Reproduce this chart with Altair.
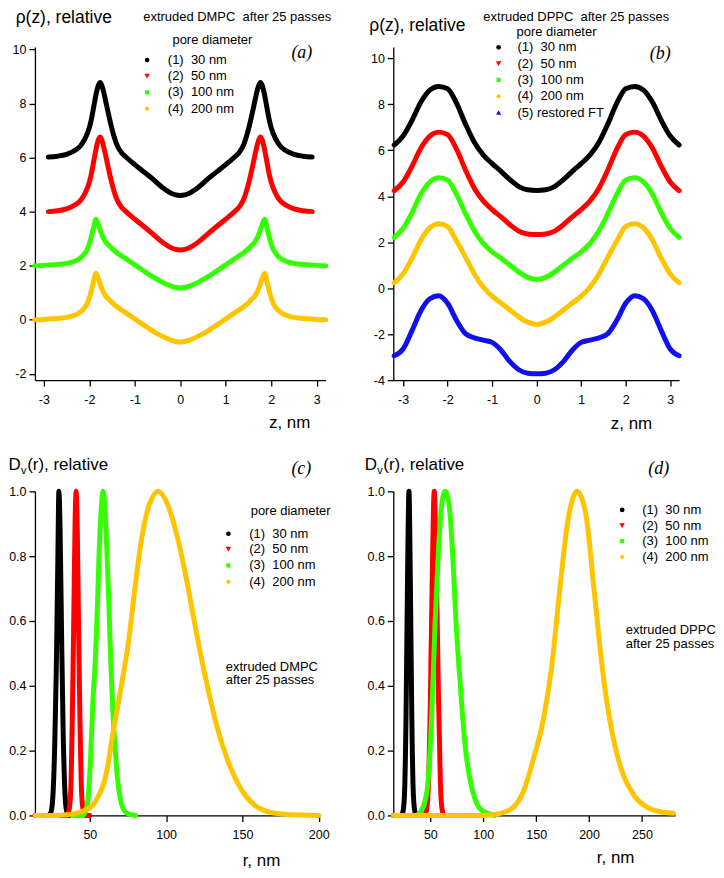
import altair as alt
import pandas as pd

FONT = "Liberation Sans"
SERIF = "Liberation Serif"
BLACK, RED, GREEN, YELLOW, BLUE = "#000000", "#ff0000", "#33ff00", "#ffc400", "#1010ee"
LW = 5

# ---------------- panel (a): extruded DMPC, rho(z) ----------------
z_a12 = [-2.9, -2.7, -2.5, -2.3, -2.2, -2.1, -2.0, -1.95, -1.9, -1.85, -1.8, -1.76, -1.72, -1.68, -1.64,
         -1.6, -1.55, -1.5, -1.45, -1.4, -1.3, -1.2, -1.1, -1.0, -0.8, -0.6, -0.4, -0.2, -0.1, 0.0,
         0.1, 0.2, 0.4, 0.6, 0.8, 1.0, 1.1, 1.2, 1.3, 1.4, 1.45, 1.5, 1.55, 1.6, 1.64, 1.68, 1.72,
         1.76, 1.8, 1.85, 1.9, 1.95, 2.0, 2.1, 2.2, 2.3, 2.5, 2.7, 2.9]
rho_a_30 = [6.02, 6.05, 6.12, 6.28, 6.42, 6.68, 7.1, 7.45, 7.9, 8.35, 8.68, 8.78, 8.65, 8.4, 8.1,
            7.78, 7.4, 7.05, 6.75, 6.5, 6.2, 6.03, 5.88, 5.74, 5.47, 5.2, 4.9, 4.68, 4.62, 4.6,
            4.62, 4.68, 4.9, 5.2, 5.47, 5.74, 5.88, 6.03, 6.2, 6.5, 6.75, 7.05, 7.4, 7.78, 8.1, 8.4, 8.65,
            8.78, 8.68, 8.35, 7.9, 7.45, 7.1, 6.68, 6.42, 6.28, 6.12, 6.05, 6.02]
rho_a_50 = [4.0, 4.03, 4.1, 4.26, 4.4, 4.66, 5.08, 5.43, 5.88, 6.33, 6.66, 6.76, 6.63, 6.38, 6.08,
            5.76, 5.38, 5.03, 4.73, 4.48, 4.18, 4.01, 3.86, 3.72, 3.45, 3.17, 2.88, 2.66, 2.6, 2.58,
            2.6, 2.66, 2.88, 3.17, 3.45, 3.72, 3.86, 4.01, 4.18, 4.48, 4.73, 5.03, 5.38, 5.76, 6.08, 6.38, 6.63,
            6.76, 6.66, 6.33, 5.88, 5.43, 5.08, 4.66, 4.4, 4.26, 4.1, 4.03, 4.0]
z_a34 = [-3.2, -3.0, -2.8, -2.6, -2.4, -2.3, -2.2, -2.1, -2.05, -2.0, -1.95, -1.9, -1.86, -1.82, -1.78,
         -1.74, -1.7, -1.65, -1.6, -1.55, -1.5, -1.4, -1.3, -1.2, -1.0, -0.8, -0.6, -0.4, -0.2, -0.1, 0.0,
         0.1, 0.2, 0.4, 0.6, 0.8, 1.0, 1.2, 1.3, 1.4, 1.5, 1.55, 1.6, 1.65, 1.7, 1.74, 1.78, 1.82, 1.86,
         1.9, 1.95, 2.0, 2.05, 2.1, 2.2, 2.3, 2.4, 2.6, 2.8, 3.0, 3.2]
rho_a_100 = [2.0, 2.01, 2.03, 2.06, 2.12, 2.18, 2.28, 2.45, 2.58, 2.8, 3.1, 3.45, 3.72, 3.62, 3.42,
             3.22, 3.05, 2.9, 2.8, 2.72, 2.63, 2.49, 2.37, 2.26, 2.03, 1.8, 1.58, 1.39, 1.24, 1.19, 1.17,
             1.19, 1.24, 1.39, 1.58, 1.8, 2.03, 2.26, 2.37, 2.49, 2.63, 2.72, 2.8, 2.9, 3.05, 3.22, 3.42, 3.62, 3.72,
             3.45, 3.1, 2.8, 2.58, 2.45, 2.28, 2.18, 2.12, 2.06, 2.03, 2.01, 2.0]
rho_a_200 = [0.0, 0.01, 0.03, 0.06, 0.12, 0.18, 0.28, 0.45, 0.58, 0.8, 1.1, 1.45, 1.72, 1.62, 1.42,
             1.22, 1.05, 0.9, 0.8, 0.72, 0.63, 0.49, 0.37, 0.26, 0.03, -0.2, -0.42, -0.61, -0.76, -0.81, -0.83,
             -0.81, -0.76, -0.61, -0.42, -0.2, 0.03, 0.26, 0.37, 0.49, 0.63, 0.72, 0.8, 0.9, 1.05, 1.22, 1.42, 1.62, 1.72,
             1.45, 1.1, 0.8, 0.58, 0.45, 0.28, 0.18, 0.12, 0.06, 0.03, 0.01, 0.0]

# ---------------- panel (b): extruded DPPC, rho(z) ----------------
z_b = [-3.2, -3.0, -2.8, -2.6, -2.4, -2.2, -2.0, -1.8, -1.6, -1.4, -1.2, -1.0, -0.8, -0.6, -0.4, -0.2, 0.0,
       0.2, 0.4, 0.6, 0.8, 1.0, 1.2, 1.4, 1.6, 1.8, 2.0, 2.2, 2.4, 2.6, 2.8, 3.0, 3.2]
rho_b_30 = [6.23, 6.62, 7.3, 8.1, 8.62, 8.78, 8.68, 8.05, 7.15, 6.35, 5.8, 5.42, 5.08, 4.72, 4.42, 4.28, 4.25,
            4.28, 4.42, 4.72, 5.08, 5.42, 5.8, 6.35, 7.15, 8.05, 8.68, 8.78, 8.62, 8.1, 7.3, 6.62, 6.23]
rho_b_50 = [4.24, 4.62, 5.3, 6.1, 6.62, 6.79, 6.68, 6.05, 5.15, 4.35, 3.8, 3.42, 3.1, 2.76, 2.48, 2.36, 2.33,
            2.36, 2.48, 2.76, 3.1, 3.42, 3.8, 4.35, 5.15, 6.05, 6.68, 6.79, 6.62, 6.1, 5.3, 4.62, 4.24]
rho_b_100 = [2.21, 2.6, 3.28, 4.1, 4.62, 4.81, 4.7, 4.08, 3.25, 2.5, 1.95, 1.58, 1.3, 1.0, 0.7, 0.47, 0.38,
             0.47, 0.7, 1.0, 1.3, 1.58, 1.95, 2.5, 3.25, 4.08, 4.7, 4.81, 4.62, 4.1, 3.28, 2.6, 2.21]
rho_b_200 = [0.23, 0.62, 1.3, 2.1, 2.62, 2.8, 2.68, 2.05, 1.35, 0.62, 0.05, -0.35, -0.65, -0.95, -1.25, -1.48, -1.58,
             -1.48, -1.25, -0.95, -0.65, -0.35, 0.05, 0.62, 1.35, 2.05, 2.68, 2.8, 2.62, 2.1, 1.3, 0.62, 0.23]
rho_b_ft = [-2.94, -2.65, -1.85, -0.98, -0.46, -0.33, -0.66, -1.4, -1.98, -2.16, -2.26, -2.36, -2.7, -3.2, -3.55, -3.7, -3.73,
            -3.7, -3.55, -3.2, -2.7, -2.36, -2.26, -2.16, -1.98, -1.4, -0.66, -0.33, -0.46, -0.98, -1.85, -2.65, -2.94]

# ---------------- panel (c): DMPC size distributions ----------------
r_c30 = [14, 22, 24, 25, 26, 27, 28, 29, 29.7, 30.5, 31.5, 32.5, 33.5, 34.5, 36, 40]
dv_c30 = [0, 0, 0.005, 0.02, 0.08, 0.22, 0.45, 0.78, 1.0, 0.88, 0.55, 0.26, 0.09, 0.02, 0.0, 0.0]
r_c50 = [30, 35, 36.5, 37.5, 38.5, 39.5, 40.3, 41, 41.7, 42.5, 43.5, 44.5, 45.5, 47, 50]
dv_c50 = [0, 0, 0.02, 0.08, 0.3, 0.62, 0.9, 1.0, 0.9, 0.62, 0.3, 0.08, 0.02, 0, 0]
r_c100 = [38, 45, 47, 49, 50.5, 52, 53.8, 55, 56, 57.5, 58.5, 59.5, 61.3, 62.5, 63.5, 65, 66.7, 68, 70, 72, 75, 80]
dv_c100 = [0, 0, 0.01, 0.06, 0.18, 0.35, 0.5, 0.65, 0.8, 0.95, 1.0, 0.97, 0.8, 0.65, 0.5, 0.33, 0.2, 0.12, 0.05, 0.02, 0.005, 0]
r_c200 = [14, 25, 35, 42, 47, 51.7, 55, 59.2, 62, 65, 68, 71, 75.2, 79.5, 83.8, 89, 95, 100.9, 107.3, 113.7,
          120, 126.5, 133, 141.5, 150, 158.5, 165, 171, 180, 190, 200]
dv_c200 = [0, 0, 0.002, 0.008, 0.017, 0.03, 0.055, 0.1, 0.16, 0.25, 0.33, 0.41, 0.53, 0.7, 0.85, 0.96, 1.0, 0.96, 0.86, 0.72,
           0.56, 0.41, 0.28, 0.156, 0.075, 0.03, 0.014, 0.007, 0.003, 0.001, 0]

# ---------------- panel (d): DPPC size distributions ----------------
r_d30 = [15, 22, 24, 25.5, 27, 28.5, 29.8, 31, 32.5, 34, 35.5, 37, 45]
dv_d30 = [0, 0, 0.01, 0.06, 0.3, 0.75, 1.0, 0.75, 0.3, 0.06, 0.01, 0, 0]
r_d50 = [40, 44, 46, 48, 50, 52, 53.7, 55.5, 57.5, 59.5, 61, 63, 70]
dv_d50 = [0, 0, 0.01, 0.08, 0.35, 0.78, 1.0, 0.78, 0.4, 0.1, 0.02, 0, 0]
r_d100 = [30, 36, 40.5, 46.6, 51.2, 54.3, 57.4, 60.4, 64.1, 68, 71.2, 74.2, 77.9, 83.4, 89.6, 98.8, 111]
dv_d100 = [0, 0, 0.01, 0.07, 0.3, 0.58, 0.8, 0.95, 1.0, 0.95, 0.8, 0.6, 0.42, 0.2, 0.08, 0.015, 0]
r_d200 = [15, 60, 100, 111, 126.4, 138.7, 147.9, 157, 164.7, 172.4, 180, 188.7, 196.9, 204.6, 212.3, 221.5,
          230.7, 243, 255, 270.5, 279.8]
dv_d200 = [0, 0, 0, 0.003, 0.02, 0.08, 0.18, 0.3, 0.46, 0.7, 0.91, 1.0, 0.93, 0.7, 0.46, 0.26,
           0.14, 0.06, 0.025, 0.01, 0.007]

# ---------------- legend / text ----------------
NB = "\u00a0"
labels4 = ["(1)" + NB * 2 + "30 nm", "(2)" + NB * 2 + "50 nm", "(3)" + NB * 2 + "100 nm", "(4)" + NB * 2 + "200 nm"]
labels5 = labels4 + ["(5)" + NB + "restored FT"]
shapes5 = ["circle", "triangle-down", "square", "diamond", "triangle-up"]
colors5 = [BLACK, RED, GREEN, YELLOW, BLUE]
sizes5 = [22, 30, 18, 26, 26]

ONE = pd.DataFrame({"k": [0]})


def axis(values, expr, is_x):
    return alt.Axis(values=values, labelExpr=expr, title=None, grid=False, tickSize=6, tickWidth=1.3,
                    domainWidth=1.3, domainColor="black", tickColor="black", labelColor="black",
                    labelFont=FONT, labelFontSize=12.5, labelPadding=7 if is_x else 3,
                    labelFlush=False, labelOverlap=False)


def curve(x, y, color, xsc, ysc, xax, yax):
    df = pd.DataFrame({"x": x, "y": y})
    return alt.Chart(df).mark_line(color=color, strokeWidth=LW, interpolate="monotone",
                                   strokeCap="round", strokeJoin="round").encode(
        x=alt.X("x:Q", scale=xsc, axis=xax), y=alt.Y("y:Q", scale=ysc, axis=yax))


def T(s, x, y, size=13, font=FONT, style="normal", baseline="middle"):
    return alt.Chart(ONE).mark_text(text=s, align="left", baseline=baseline, fontSize=size, font=font,
                                    fontStyle=style, color="black").encode(x=alt.value(x), y=alt.value(y))


def S(shape, color, x, y, size):
    return alt.Chart(ONE).mark_point(shape=shape, filled=True, size=size, color=color, opacity=1,
                                     strokeWidth=0).encode(x=alt.value(x), y=alt.value(y))


def legend(n, sx, tx, ys):
    out = []
    for i in range(n):
        out.append(S(shapes5[i], colors5[i], sx, ys[i], sizes5[i]))
        out.append(T(labels5[i], tx, ys[i]))
    return out


INT = "'' + datum.value"
DEC = "format(datum.value, '.1f')"

# ---- panel a ----
xa = alt.Scale(domain=[-3.195, 3.195], nice=False, zero=False)
ya = alt.Scale(domain=[-2.236, 10.09], nice=False, zero=False)
xax_a = axis([-3, -2, -1, 0, 1, 2, 3], INT, True)
yax_a = axis([-2, 0, 2, 4, 6, 8, 10], INT, False)
layers_a = [
    curve(z_a12, rho_a_30, BLACK, xa, ya, xax_a, yax_a),
    curve(z_a12, rho_a_50, RED, xa, ya, xax_a, yax_a),
    curve(z_a34, rho_a_100, GREEN, xa, ya, xax_a, yax_a),
    curve(z_a34, rho_a_200, YELLOW, xa, ya, xax_a, yax_a),
    T("ρ(z), relative", -19.3, -23.7, size=17.5, baseline="alphabetic"),
    T("extruded DMPC" + NB * 2 + "after 25 passes", 108.6, -26.4, baseline="alphabetic"),
    T("pore diameter", 137.9, -7.3),
    T("(a)", 257.2, 6.1, size=18, font=SERIF, style="italic"),
    T("z, nm", 234.7, 377.4, size=17),
    alt.Chart(ONE).mark_point(filled=True, size=1, opacity=0).encode(x=alt.value(-26.4), y=alt.value(-36.8)),
] + legend(4, 112.5, 133.3, [13.0, 29.0, 45.4, 61.7])
panel_a = alt.layer(*layers_a).properties(width=291.5, height=333.9)

# ---- panel b ----
xb = alt.Scale(domain=[-3.22, 3.2], nice=False, zero=False)
yb = alt.Scale(domain=[-4.0, 10.49], nice=False, zero=False)
xax_b = axis([-3, -2, -1, 0, 1, 2, 3], INT, True)
yax_b = axis([-4, -2, 0, 2, 4, 6, 8, 10], INT, False)
layers_b = [
    curve(z_b, rho_b_30, BLACK, xb, yb, xax_b, yax_b),
    curve(z_b, rho_b_50, RED, xb, yb, xax_b, yax_b),
    curve(z_b, rho_b_100, GREEN, xb, yb, xax_b, yax_b),
    curve(z_b, rho_b_200, YELLOW, xb, yb, xax_b, yax_b),
    curve(z_b, rho_b_ft, BLUE, xb, yb, xax_b, yax_b),
    T("ρ(z), relative", -24.1, -16.5, size=17.5, baseline="alphabetic"),
    T("extruded DPPC" + NB * 2 + "after 25 passes", 90.3, -26.4, baseline="alphabetic"),
    T("pore diameter", 123.6, -15.5),
    T("(b)", 257.2, 6.9, size=18, font=SERIF, style="italic"),
    T("z, nm", 218.1, 377.9, size=17),
] + legend(5, 105.6, 124.5, [0.2, 16.5, 32.9, 49.3, 65.6])
panel_b = alt.layer(*layers_b).properties(width=286.6, height=333.9)

# ---- panel c ----
xc = alt.Scale(domain=[14, 200], nice=False, zero=False)
yc = alt.Scale(domain=[0, 1.0], nice=False, zero=False)
xax_c = axis([50, 100, 150, 200], INT, True)
yax_c = axis([0, 0.2, 0.4, 0.6, 0.8, 1.0], DEC, False)
layers_c = [
    curve(r_c30, dv_c30, BLACK, xc, yc, xax_c, yax_c),
    curve(r_c50, dv_c50, RED, xc, yc, xax_c, yax_c),
    curve(r_c100, dv_c100, GREEN, xc, yc, xax_c, yax_c),
    curve(r_c200, dv_c200, YELLOW, xc, yc, xax_c, yax_c),
    T("D", -26.4, -21.3, size=17, baseline="alphabetic"),
    T("v", -14.0, -17.4, size=11, baseline="alphabetic"),
    T("(r), relative", -7.8, -21.3, size=17, baseline="alphabetic"),
    T("(c)", 257.2, -22.3, size=18, font=SERIF, style="italic"),
    T("pore diameter", 216.4, 19.6),
    T("extruded DMPC", 191.4, 175.7),
    T("after 25 passes", 191.4, 189.5),
    T("r, nm", 208.3, 370.5, size=17),
] + legend(4, 194.0, 214.9, [42.5, 57.9, 74.3, 90.6])
panel_c = alt.layer(*layers_c).properties(width=284.6, height=325)

# ---- panel d ----
xd = alt.Scale(domain=[15, 281.3], nice=False, zero=False)
yd = alt.Scale(domain=[0, 1.0], nice=False, zero=False)
xax_d = axis([50, 100, 150, 200, 250], INT, True)
yax_d = axis([0, 0.2, 0.4, 0.6, 0.8, 1.0], DEC, False)
layers_d = [
    curve(r_d30, dv_d30, BLACK, xd, yd, xax_d, yax_d),
    curve(r_d50, dv_d50, RED, xd, yd, xax_d, yax_d),
    curve(r_d100, dv_d100, GREEN, xd, yd, xax_d, yax_d),
    curve(r_d200, dv_d200, YELLOW, xd, yd, xax_d, yax_d),
    T("D", -28.6, -21.3, size=17, baseline="alphabetic"),
    T("v", -16.2, -17.4, size=11, baseline="alphabetic"),
    T("(r), relative", -10.0, -21.3, size=17, baseline="alphabetic"),
    T("(d)", 255.6, -22.3, size=18, font=SERIF, style="italic"),
    T("extruded DPPC", 233.1, 139.1),
    T("after 25 passes", 233.1, 152.9),
    T("r, nm", 204.1, 367.2, size=17),
] + legend(4, 229.5, 249.7, [18.6, 34.3, 50.0, 65.8])
panel_d = alt.layer(*layers_d).properties(width=282.6, height=325)

chart = alt.concat(panel_a, panel_b, panel_c, panel_d, columns=2,
                   spacing={"row": 111.5, "column": 67.4}, bounds="flush").properties(
    padding=0).configure_view(stroke=None)

chart.save("out.html", embed_options={"renderer": "svg", "actions": False})
